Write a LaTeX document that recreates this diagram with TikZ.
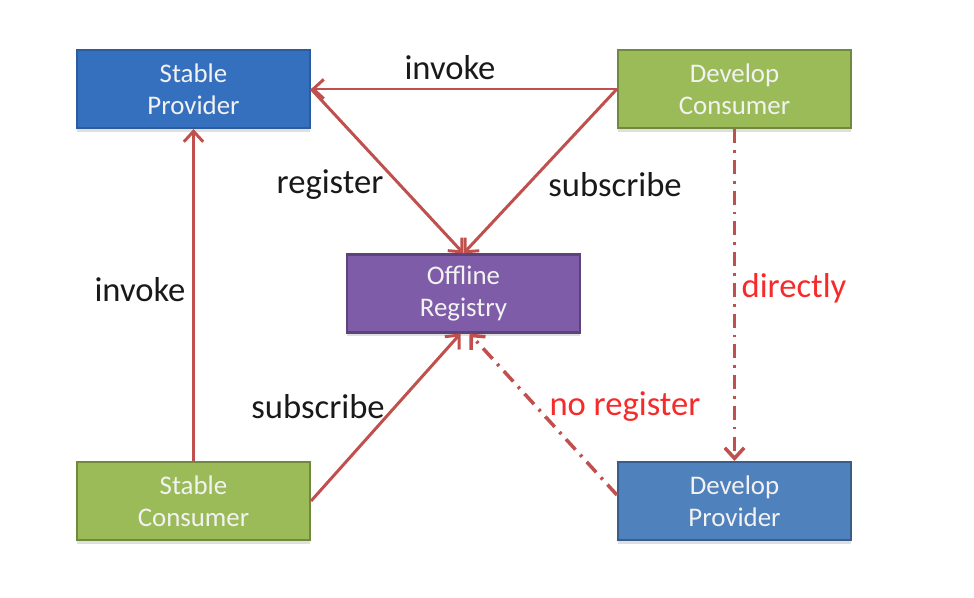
\documentclass[tikz,border=0pt]{standalone}
\usepackage{fontspec}
\setmainfont{Carlito}
\usetikzlibrary{arrows.meta,shadows}
\definecolor{arrowred}{HTML}{C0504D}
\definecolor{labelred}{HTML}{F52A2A}
\definecolor{provblue}{HTML}{3470BD}
\definecolor{provblueb}{HTML}{2B5D9E}
\definecolor{devblue}{HTML}{4F81BD}
\definecolor{devblueb}{HTML}{385D8A}
\definecolor{consgreen}{HTML}{9BBB59}
\definecolor{consgreenb}{HTML}{71893F}
\definecolor{regpurple}{HTML}{7E5CA7}
\definecolor{regpurpleb}{HTML}{5C4379}
\tikzset{
  box/.style={draw, line width=1.2pt, minimum width=233*0.02cm, minimum height=78*0.02cm,
    text=white!95!black, align=center, font=\fontsize{15.3}{18}\selectfont,
    drop shadow={shadow xshift=0pt, shadow yshift=-2pt, opacity=0.25}},
  lbl/.style={font=\fontsize{19.7}{22}\selectfont, text=black!90},
  redlbl/.style={font=\fontsize{19.7}{22}\selectfont, text=labelred},
  link/.style={draw=arrowred, line width=1.7pt, -{Straight Barb[length=6pt,width=11pt]}},
  dashlink/.style={link, line width=2pt, dash pattern=on 8pt off 4pt on 1.5pt off 4pt}
}
\begin{document}
\begin{tikzpicture}[x=0.02cm, y=-0.02cm]
\useasboundingbox (0,0) rectangle (974,598);
% boxes
\path (193.5,89) node[box, fill=provblue, draw=provblueb] (sp) {Stable\\Provider};
\path (734.5,89) node[box, fill=consgreen, draw=consgreenb] (dc) {Develop\\Consumer};
\path (463.5,293.5) node[box, fill=regpurple, draw=regpurpleb] (reg) {Offline\\Registry};
\path (193.5,501) node[box, fill=consgreen, draw=consgreenb] (sc) {Stable\\Consumer};
\path (734.5,501) node[box, fill=devblue, draw=devblueb] (dp) {Develop\\Provider};
% connectors
\draw[link] (dc.west) -- (sp.east);
\draw[link] (sp.east) -- (reg.north);
\draw[link] (dc.west) -- (reg.north);
\draw[link] (sc.north) -- (sp.south);
\draw[link] (sc.east) -- ([xshift=-0.06cm]reg.south);
\draw[dashlink] ([yshift=0.12cm]dp.west) -- ([xshift=0.12cm]reg.south);
\draw[dashlink] (dc.south) -- (dp.north);
% labels
\path (450,68) node[lbl] (linv) {invoke};
\path (330,185) node[lbl] (lreg) {register};
\path (615,185) node[lbl] (lsub) {subscribe};
\path (140,290) node[lbl] (linv2) {invoke};
\path (318,407) node[lbl] (lsub2) {subscribe};
\path (794,288) node[redlbl] (ldir) {directly};
\path (625,407) node[redlbl] (lnoreg) {no register};
\end{tikzpicture}
\end{document}
